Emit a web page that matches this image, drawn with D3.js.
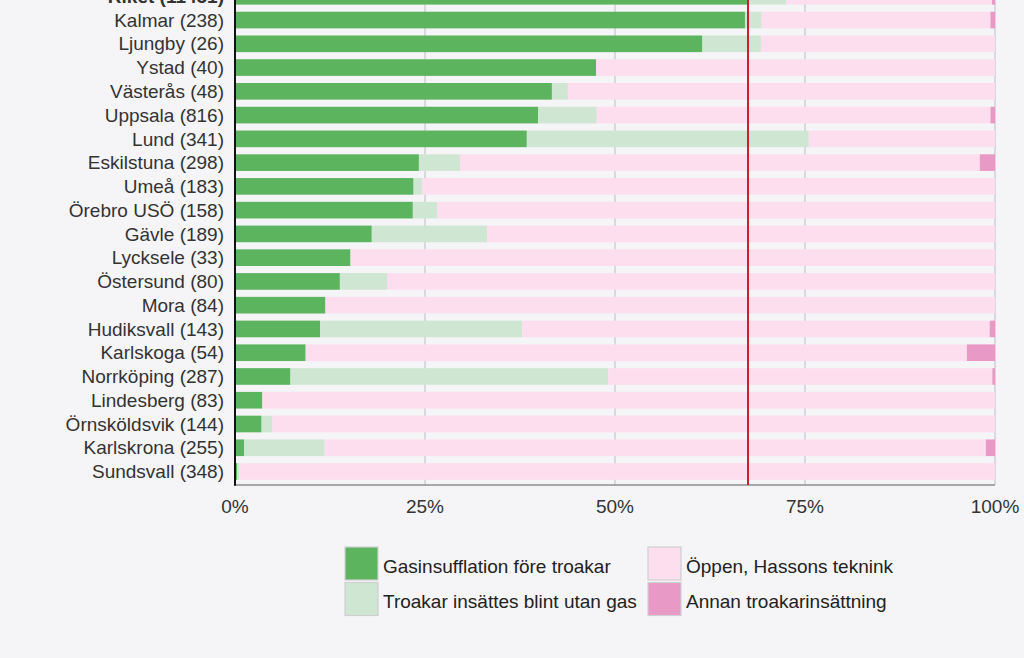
<!DOCTYPE html>
<html>
<head>
<meta charset="utf-8">
<script src="https://cdn.jsdelivr.net/npm/d3@7"></script>
<style>
  html, body { margin: 0; padding: 0; background: #f5f4f7; }
  svg { display: block; font-family: "Liberation Sans", Arial, sans-serif; }
</style>
</head>
<body>
<svg id="chart" width="1024" height="658"></svg>
<script>
const categories = ["Riket (11451)", "Kalmar (238)", "Ljungby (26)", "Ystad (40)", "Västerås (48)", "Uppsala (816)",
  "Lund (341)", "Eskilstuna (298)", "Umeå (183)", "Örebro USÖ (158)", "Gävle (189)", "Lycksele (33)",
  "Östersund (80)", "Mora (84)", "Hudiksvall (143)", "Karlskoga (54)", "Norrköping (287)", "Lindesberg (83)",
  "Örnsköldsvik (144)", "Karlskrona (255)", "Sundsvall (348)"];

const seriesNames = ["Gasinsufflation före troakar", "Troakar insättes blint utan gas", "Öppen, Hassons teknink", "Annan troakarinsättning"];

const gas    = [67.5, 67.1, 61.5, 47.5, 41.7, 39.9, 38.4, 24.2, 23.5, 23.4, 18.0, 15.2, 13.8, 11.9, 11.2, 9.3, 7.3, 3.6, 3.5, 1.2, 0.3];
const blint  = [5.0, 2.2, 7.7, 0, 2.1, 7.7, 37.1, 5.4, 1.1, 3.2, 15.2, 0, 6.2, 0, 26.6, 0, 41.8, 0, 1.4, 10.6, 0.3];
const oppen  = [27.1, 30.1, 30.8, 52.5, 56.2, 51.8, 24.5, 68.4, 75.4, 73.4, 66.8, 84.8, 80.0, 88.1, 61.5, 87.0, 50.55, 96.4, 95.1, 87.0, 99.4];
const annan  = [0.4, 0.6, 0, 0, 0, 0.6, 0, 2.0, 0, 0, 0, 0, 0, 0, 0.7, 3.7, 0.35, 0, 0, 1.2, 0];

const referenceValue = 67.5;
const xTicks = [0, 25, 50, 75, 100];

const colors = ["#5cb45f", "#cfe7d2", "#fcdeee", "#e899c5"];
const legendBorders = ["#5cb45f", "#c9dccc", "#e6d6df", "#d8a0c0"];

const svg = d3.select("#chart");
const x0 = 235, x1 = 995;
const x = d3.scaleLinear().domain([0, 100]).range([x0, x1]);
const y = d3.scaleBand().domain(categories).range([-15.6, 483.4]).paddingInner(0.3).paddingOuter(0.15);
const axisBottomY = 485;

// gridlines
svg.append("g").selectAll("line").data(xTicks.filter(d => d > 0)).join("line")
  .attr("x1", d => x(d)).attr("x2", d => x(d))
  .attr("y1", 0).attr("y2", axisBottomY)
  .attr("stroke", "#cfcfd3").attr("stroke-width", 1.5);

// stacked bars
const table = categories.map((c, i) => ({ cat: c, s0: gas[i], s1: blint[i], s2: oppen[i], s3: annan[i] }));
const stack = d3.stack().keys(["s0", "s1", "s2", "s3"]);
const stacked = stack(table);

svg.append("g").selectAll("g").data(stacked).join("g")
  .attr("fill", (d, i) => colors[i])
  .selectAll("rect").data(d => d.map(v => ({ v, cat: v.data.cat }))).join("rect")
  .attr("x", d => x(d.v[0]))
  .attr("width", d => Math.max(0, x(d.v[1]) - x(d.v[0])))
  .attr("y", d => y(d.cat))
  .attr("height", y.bandwidth());

// bottom axis line
svg.append("line").attr("x1", x0).attr("x2", x1).attr("y1", axisBottomY).attr("y2", axisBottomY)
  .attr("stroke", "#8e8e8e").attr("stroke-width", 1.5);

// reference line
svg.append("line").attr("x1", x(referenceValue)).attr("x2", x(referenceValue))
  .attr("y1", 0).attr("y2", axisBottomY)
  .attr("stroke", "#cc1f2f").attr("stroke-width", 2);

// zero axis line
svg.append("line").attr("x1", x0).attr("x2", x0).attr("y1", 0).attr("y2", axisBottomY + 0.75)
  .attr("stroke", "#111").attr("stroke-width", 2);

// category labels
svg.append("g").selectAll("text").data(categories).join("text")
  .attr("x", 224)
  .attr("y", d => y(d) + y.bandwidth() / 2)
  .attr("dy", "0.35em")
  .attr("text-anchor", "end")
  .attr("font-size", 19)
  .attr("font-weight", (d, i) => i === 0 ? "bold" : "normal")
  .attr("fill", "#333")
  .text(d => d);

// x tick labels
svg.append("g").selectAll("text").data(xTicks).join("text")
  .attr("x", d => x(d))
  .attr("y", 506)
  .attr("dy", "0.35em")
  .attr("text-anchor", "middle")
  .attr("font-size", 19)
  .attr("fill", "#333")
  .text(d => d + "%");

// legend
const legendPos = [
  { sx: 345, sy: 547, tx: 383, ty: 566 },
  { sx: 345, sy: 582.5, tx: 383, ty: 601 },
  { sx: 648, sy: 547, tx: 686, ty: 566 },
  { sx: 648, sy: 582.5, tx: 686, ty: 601 }
];
const lg = svg.append("g");
seriesNames.forEach((name, i) => {
  const p = legendPos[i];
  lg.append("rect").attr("x", p.sx).attr("y", p.sy).attr("width", 33).attr("height", 33)
    .attr("fill", colors[i]).attr("stroke", "#cfcfd3").attr("stroke-width", 1.2);
  lg.append("text").attr("x", p.tx).attr("y", p.ty).attr("dy", "0.35em")
    .attr("font-size", 19).attr("fill", "#222").text(name);
});
</script>
</body>
</html>
